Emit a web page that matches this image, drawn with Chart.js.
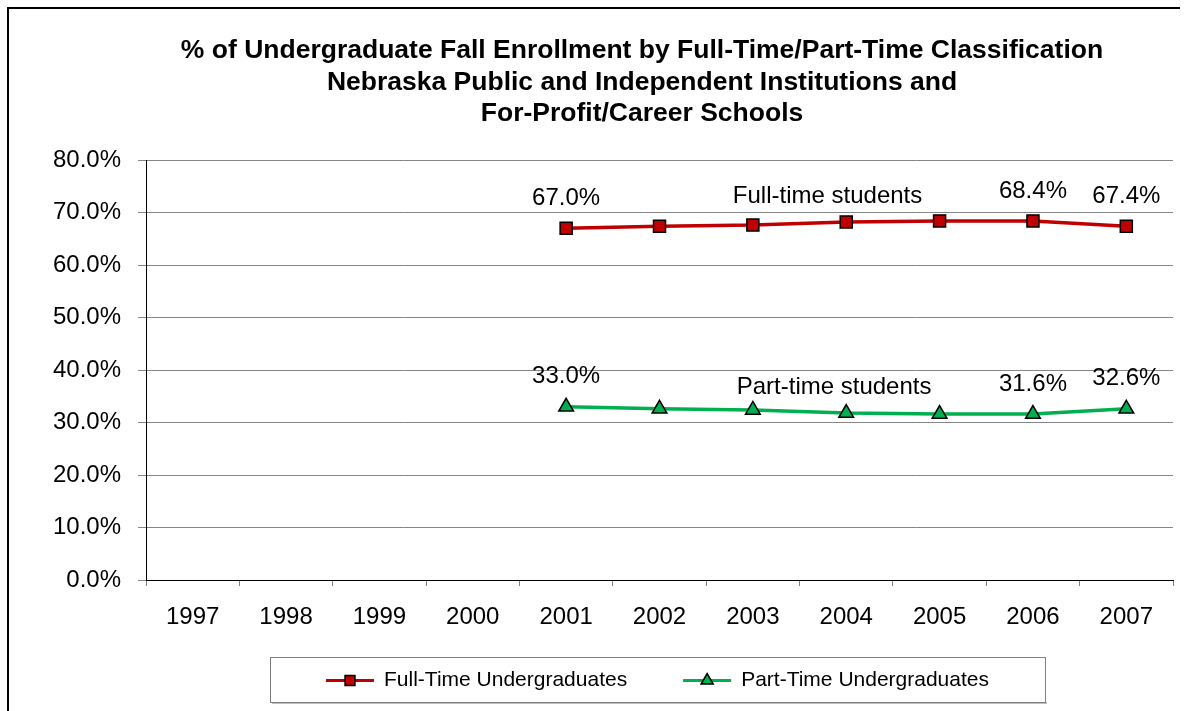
<!DOCTYPE html>
<html>
<head>
<meta charset="utf-8">
<script src="https://cdn.jsdelivr.net/npm/chart.js@4.4.1/dist/chart.umd.min.js"></script>
<style>
  html, body { margin: 0; padding: 0; background: #fff; }
  #wrap { width: 1186px; height: 711px; position: relative; }
</style>
</head>
<body>
<div id="wrap"><canvas id="enrollChart" width="1186" height="711"></canvas></div>
<script>
  // Data
  const years = ['1997', '1998', '1999', '2000', '2001', '2002', '2003', '2004', '2005', '2006', '2007'];
  const fullTime = [null, null, null, null, 67.0, 67.4, 67.6, 68.2, 68.4, 68.4, 67.4];
  const partTime = [null, null, null, null, 33.0, 32.6, 32.4, 31.8, 31.6, 31.6, 32.6];
  const labeledYears = ['2001', '2006', '2007'];
  const titleLines = [
    '% of Undergraduate Fall Enrollment by Full-Time/Part-Time Classification',
    'Nebraska Public and Independent Institutions and',
    'For-Profit/Career Schools'
  ];
  // text notes pinned to data coordinates: [label, year position, value]
  const notes = [
    ['Full-time students', 6.8, 73.0],
    ['Part-time students', 6.87, 36.6]
  ];

  const FONT = '"Liberation Sans", Arial, sans-serif';
  const RED = '#C00000';
  const GREEN = '#00B050';

  // Draws frame, title, value labels, notes and the boxed legend
  const decor = {
    id: 'decor',
    beforeDraw(chart) {
      const ctx = chart.ctx;
      ctx.save();
      ctx.fillStyle = '#fff';
      ctx.fillRect(0, 0, chart.width, chart.height);
      ctx.strokeStyle = '#000';
      ctx.lineWidth = 2;
      ctx.beginPath();
      ctx.moveTo(8, chart.height);
      ctx.lineTo(8, 8);
      ctx.lineTo(1180, 8);
      ctx.stroke();

      ctx.fillStyle = '#000';
      ctx.font = 'bold 26.5px ' + FONT;
      ctx.textAlign = 'center';
      ctx.textBaseline = 'middle';
      titleLines.forEach((t, i) => ctx.fillText(t, 642, 51 + i * 31.5));
      ctx.restore();
    },
    afterDatasetsDraw(chart) {
      const ctx = chart.ctx;
      const xs = chart.scales.x, ys = chart.scales.y;
      ctx.save();
      ctx.fillStyle = '#000';
      ctx.font = '24px ' + FONT;
      ctx.textAlign = 'center';
      ctx.textBaseline = 'middle';

      chart.data.datasets.forEach((ds) => {
        ds.data.forEach((v, i) => {
          if (v == null || !labeledYears.includes(years[i])) return;
          ctx.fillText(v.toFixed(1) + '%', xs.getPixelForValue(i), ys.getPixelForValue(v) - 30);
        });
      });

      notes.forEach(([txt, xi, yv]) => {
        ctx.fillText(txt, xs.getPixelForValue(xi), ys.getPixelForValue(yv));
      });

      // legend
      const items = chart.data.datasets.map(ds => ({
        text: ds.label, color: ds.borderColor, style: ds.pointStyle, r: ds.pointRadius
      }));
      ctx.font = '21px ' + FONT;
      const lineLen = 48, gapText = 10, gapItem = 56, padX = 56;
      const widths = items.map(it => lineLen + gapText + ctx.measureText(it.text).width);
      const total = widths.reduce((a, b) => a + b, 0) + gapItem * (items.length - 1);
      const cx = (chart.chartArea.left + chart.chartArea.right) / 2 - 2;
      const boxL = Math.round(cx - total / 2 - padX);
      const boxT = 657, boxH = 45;
      ctx.fillStyle = 'rgba(0,0,0,0.25)';
      ctx.fillRect(boxL + 2, boxT + boxH, total + padX * 2, 2);
      ctx.strokeStyle = '#808080';
      ctx.lineWidth = 1;
      ctx.strokeRect(boxL + 0.5, boxT + 0.5, total + padX * 2, boxH);

      let x = boxL + padX;
      const y = boxT + boxH / 2 + 1;
      items.forEach((it, k) => {
        ctx.strokeStyle = it.color;
        ctx.lineWidth = 3;
        ctx.beginPath();
        ctx.moveTo(x, y);
        ctx.lineTo(x + lineLen, y);
        ctx.stroke();
        ctx.fillStyle = it.color;
        ctx.strokeStyle = '#000';
        ctx.lineWidth = 1.5;
        Chart.helpers.drawPoint(ctx, { pointStyle: it.style, radius: it.r - 1.5, borderWidth: 1.5 }, x + lineLen / 2, y);
        ctx.fillStyle = '#000';
        ctx.textAlign = 'left';
        ctx.fillText(it.text, x + lineLen + gapText, y);
        x += widths[k] + gapItem;
      });
      ctx.restore();
    }
  };

  new Chart(document.getElementById('enrollChart'), {
    type: 'line',
    data: {
      labels: years,
      datasets: [
        {
          label: 'Full-Time Undergraduates',
          data: fullTime,
          borderColor: RED,
          backgroundColor: RED,
          borderWidth: 3.5,
          pointStyle: 'rect',
          pointRadius: 8.5,
          pointBackgroundColor: RED,
          pointBorderColor: '#000',
          pointBorderWidth: 1.5,
          spanGaps: false,
          tension: 0
        },
        {
          label: 'Part-Time Undergraduates',
          data: partTime,
          borderColor: GREEN,
          backgroundColor: GREEN,
          borderWidth: 3.5,
          pointStyle: 'triangle',
          pointRadius: 8.5,
          pointBackgroundColor: GREEN,
          pointBorderColor: '#000',
          pointBorderWidth: 1.5,
          spanGaps: false,
          tension: 0
        }
      ]
    },
    options: {
      responsive: false,
      animation: false,
      layout: { padding: { top: 160, right: 13, bottom: 0, left: 0 } },
      plugins: {
        legend: { display: false },
        title: { display: false },
        tooltip: { enabled: false }
      },
      scales: {
        x: {
          offset: true,
          grid: {
            offset: true,
            drawOnChartArea: false,
            drawTicks: true,
            tickLength: 6,
            tickColor: '#808080'
          },
          border: { color: '#000', width: 1 },
          ticks: { color: '#000', font: { family: FONT, size: 24 }, padding: 17, maxRotation: 0 },
          afterFit(scale) { scale.height = 131; }
        },
        y: {
          min: 0,
          max: 80,
          ticks: {
            stepSize: 10,
            color: '#000',
            font: { family: FONT, size: 24 },
            padding: 17,
            callback: v => v.toFixed(1) + '%'
          },
          grid: { color: '#868686', tickLength: 8, tickColor: '#868686' },
          border: { color: '#000', width: 1 },
          afterFit(scale) { scale.width = 146; }
        }
      }
    },
    plugins: [decor]
  });
</script>
</body>
</html>
